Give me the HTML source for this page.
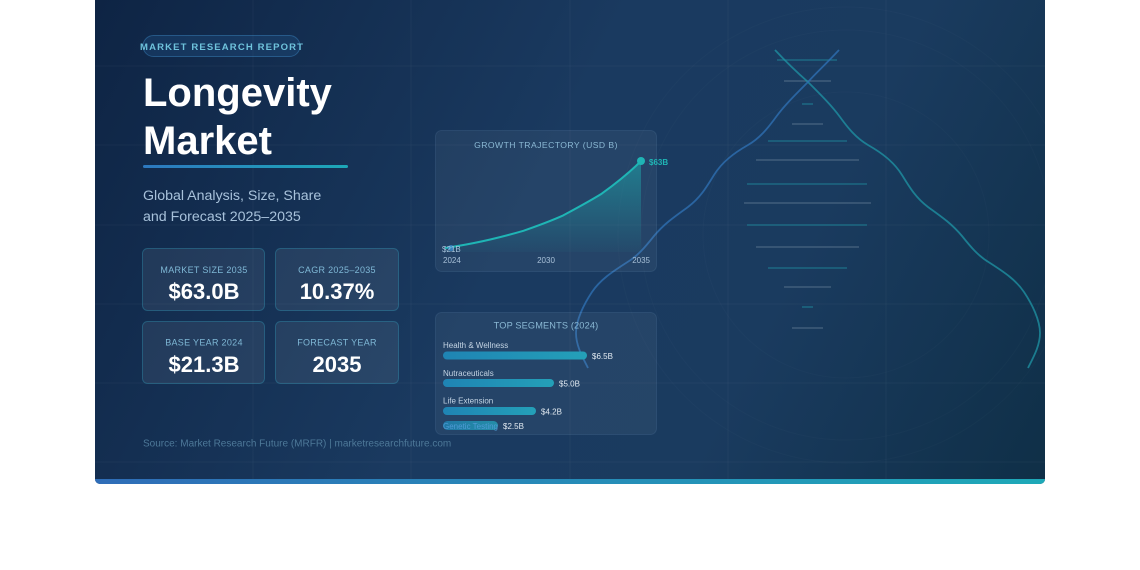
<!DOCTYPE html>
<html><head><meta charset="utf-8"><style>
html,body{margin:0;padding:0;background:#fff;width:1140px;height:570px;overflow:hidden}
svg{display:block}
text{font-family:"Liberation Sans",sans-serif}
</style></head><body>
<svg width="1140" height="570" viewBox="0 0 1140 570" xmlns="http://www.w3.org/2000/svg">
<defs>
<linearGradient id="bg" gradientUnits="userSpaceOnUse" x1="95" y1="0" x2="1045" y2="484">
<stop offset="0" stop-color="#0e2444"/><stop offset="0.45" stop-color="#1a3a60"/><stop offset="0.7" stop-color="#1a3b5f"/><stop offset="1" stop-color="#0f2f47"/>
</linearGradient>
<linearGradient id="bar" x1="0" y1="0" x2="1" y2="0"><stop offset="0" stop-color="#2f6db8"/><stop offset="1" stop-color="#1ea9b8"/></linearGradient>
<linearGradient id="ul" x1="0" y1="0" x2="1" y2="0"><stop offset="0" stop-color="#2d78bf"/><stop offset="1" stop-color="#1da8b8"/></linearGradient>
<linearGradient id="sb" x1="0" y1="0" x2="1" y2="0"><stop offset="0" stop-color="#1f84b4"/><stop offset="1" stop-color="#24a0b8"/></linearGradient>
<linearGradient id="area" x1="0" y1="0" x2="0" y2="1"><stop offset="0" stop-color="#1fb5b5" stop-opacity="0.5"/><stop offset="1" stop-color="#1fb5b5" stop-opacity="0.04"/></linearGradient>
<clipPath id="card"><rect x="95" y="-10" width="950" height="494" rx="5"/></clipPath>
</defs>
<g clip-path="url(#card)">
<rect x="95" y="-10" width="950" height="494" fill="url(#bg)"/>
<g stroke="#ffffff" stroke-opacity="0.035" stroke-width="1">
<line x1="253" y1="0" x2="253" y2="484"/><line x1="411" y1="0" x2="411" y2="484"/><line x1="570" y1="0" x2="570" y2="484"/><line x1="728" y1="0" x2="728" y2="484"/><line x1="886" y1="0" x2="886" y2="484"/>
<line x1="95" y1="66" x2="1045" y2="66"/><line x1="95" y1="145" x2="1045" y2="145"/><line x1="95" y1="225" x2="1045" y2="225"/><line x1="95" y1="304" x2="1045" y2="304"/><line x1="95" y1="383" x2="1045" y2="383"/><line x1="95" y1="462" x2="1045" y2="462"/>
</g>
<g fill="none" stroke="#ffffff" stroke-opacity="0.018">
<circle cx="846" cy="235" r="143"/><circle cx="846" cy="235" r="205"/><circle cx="846" cy="235" r="228"/>
</g>
<!-- DNA rungs -->
<g stroke-width="1.3">
<line x1="777" y1="60" x2="837" y2="60" stroke="#1f8a9c" stroke-opacity="0.7"/>
<line x1="784" y1="81" x2="831" y2="81" stroke="#5e7892" stroke-opacity="0.7"/>
<line x1="802" y1="104" x2="813" y2="104" stroke="#1f8a9c" stroke-opacity="0.7"/>
<line x1="792" y1="124" x2="823" y2="124" stroke="#5e7892" stroke-opacity="0.7"/>
<line x1="768" y1="141" x2="847" y2="141" stroke="#1f8a9c" stroke-opacity="0.7"/>
<line x1="756" y1="160" x2="859" y2="160" stroke="#5e7892" stroke-opacity="0.7"/>
<line x1="747" y1="184" x2="867" y2="184" stroke="#1f8a9c" stroke-opacity="0.7"/>
<line x1="744" y1="203" x2="871" y2="203" stroke="#5e7892" stroke-opacity="0.7"/>
<line x1="747" y1="225" x2="867" y2="225" stroke="#1f8a9c" stroke-opacity="0.7"/>
<line x1="756" y1="247" x2="859" y2="247" stroke="#5e7892" stroke-opacity="0.7"/>
<line x1="768" y1="268" x2="847" y2="268" stroke="#1f8a9c" stroke-opacity="0.7"/>
<line x1="784" y1="287" x2="831" y2="287" stroke="#5e7892" stroke-opacity="0.7"/>
<line x1="802" y1="307" x2="813" y2="307" stroke="#1f8a9c" stroke-opacity="0.7"/>
<line x1="792" y1="328" x2="823" y2="328" stroke="#5e7892" stroke-opacity="0.7"/>
</g>
<path d="M775,50 C790,66 800,75 808,82 C822,96 832,106 840,117 C848,128 856,138 868,145 C882,153 894,162 902,175 C910,188 916,198 928,207 C942,217 952,224 962,236 C970,246 978,256 990,263 C1004,272 1016,280 1024,292 C1032,304 1040,320 1040,333 C1040,346 1033,358 1028,368" fill="none" stroke="#1f95a5" stroke-opacity="0.75" stroke-width="1.8"/>
<path d="M839,50 C824,66 814,75 808,82 C794,96 784,106 776,117 C768,128 760,138 748,145 C734,153 722,162 714,175 C706,188 700,198 688,207 C674,217 664,224 654,236 C646,246 638,256 626,263 C612,272 600,280 592,292 C584,304 576,320 576,333 C576,346 583,358 588,368" fill="none" stroke="#2e6fb2" stroke-opacity="0.8" stroke-width="1.8"/>
<rect x="95" y="479" width="950" height="6" fill="url(#bar)"/>
</g>

<!-- badge -->
<rect x="143" y="35.5" width="157" height="21" rx="10.5" fill="#2a6aa8" fill-opacity="0.22" stroke="#3f8cc8" stroke-opacity="0.45"/>
<text x="140" y="50" font-size="9.5" font-weight="bold" letter-spacing="1.15" fill="#6fc3dc">MARKET RESEARCH REPORT</text>

<text x="143" y="106" font-size="40" font-weight="bold" fill="#ffffff">Longevity</text>
<text x="143" y="154" font-size="40" font-weight="bold" fill="#ffffff">Market</text>
<rect x="143" y="165" width="205" height="3" rx="1.5" fill="url(#ul)"/>
<text x="143" y="200" font-size="14.2" fill="#a8c2db">Global Analysis, Size, Share</text>
<text x="143" y="221" font-size="14.2" fill="#a8c2db">and Forecast 2025–2035</text>

<!-- stat cards -->
<g fill="#ffffff" fill-opacity="0.07" stroke="#3aa6c4" stroke-opacity="0.35">
<rect x="142.5" y="248.5" width="122" height="62" rx="5"/>
<rect x="275.5" y="248.5" width="123" height="62" rx="5"/>
<rect x="142.5" y="321.5" width="122" height="62" rx="5"/>
<rect x="275.5" y="321.5" width="123" height="62" rx="5"/>
</g>
<g text-anchor="middle">
<text x="204" y="273" font-size="9" letter-spacing="0.3" fill="#7fb8d6">MARKET SIZE 2035</text>
<text x="204" y="299" font-size="22" font-weight="bold" fill="#ffffff">$63.0B</text>
<text x="337" y="273" font-size="9" letter-spacing="0.3" fill="#7fb8d6">CAGR 2025–2035</text>
<text x="337" y="299" font-size="22" font-weight="bold" fill="#ffffff">10.37%</text>
<text x="204" y="345.5" font-size="9" letter-spacing="0.3" fill="#7fb8d6">BASE YEAR 2024</text>
<text x="204" y="372" font-size="22" font-weight="bold" fill="#ffffff">$21.3B</text>
<text x="337" y="345.5" font-size="9" letter-spacing="0.3" fill="#7fb8d6">FORECAST YEAR</text>
<text x="337" y="372" font-size="22" font-weight="bold" fill="#ffffff">2035</text>
</g>

<!-- growth panel -->
<rect x="435.5" y="130.5" width="221" height="141" rx="6" fill="#ffffff" fill-opacity="0.05" stroke="#8ab8e0" stroke-opacity="0.12"/>
<text x="546" y="148" text-anchor="middle" font-size="8.6" letter-spacing="0.45" fill="#8ab8d4">GROWTH TRAJECTORY (USD B)</text>
<path d="M445,248 L464.6,244.9 L484.2,241 L503.8,236.4 L523.4,230.8 L543,224 L562.6,215.7 L582.2,205.7 L601.8,193.6 L621.4,178.9 L641,161 L641,252 L445,252 Z" fill="url(#area)"/>
<path d="M445,248 C455,246.5 464,245 474,243 C494,239 504,236.4 523.4,230.8 C543,224 553,220 562.6,215.7 C575,209 590,201 601.8,193.6 C615,184 628,174 641,161" fill="none" stroke="#1fb5b5" stroke-width="2"/>
<circle cx="451" cy="248" r="3" fill="#3b8fd0" fill-opacity="0.8"/>
<circle cx="641" cy="161" r="4" fill="#1fb5b5"/>
<text x="649" y="165" font-size="8" font-weight="bold" fill="#1fb5b5">$63B</text>
<text x="442" y="252" font-size="8" fill="#a8c4dc">$21B</text>
<text x="443" y="263" font-size="8" fill="#a8c0d8">2024</text>
<text x="546" y="263" text-anchor="middle" font-size="8" fill="#a8c0d8">2030</text>
<text x="650" y="263" text-anchor="end" font-size="8" fill="#a8c0d8">2035</text>

<!-- segments panel -->
<rect x="435.5" y="312.5" width="221" height="122" rx="6" fill="#ffffff" fill-opacity="0.05" stroke="#8ab8e0" stroke-opacity="0.12"/>
<text x="546" y="328.5" text-anchor="middle" font-size="9.2" letter-spacing="0.15" fill="#8ab8d4">TOP SEGMENTS (2024)</text>
<text x="443" y="348" font-size="8" fill="#c4d4e4">Health &amp; Wellness</text>
<rect x="443" y="351.5" width="144" height="8" rx="4" fill="url(#sb)"/>
<text x="592" y="359" font-size="8" fill="#e2eaf2">$6.5B</text>
<text x="443" y="376" font-size="8" fill="#c4d4e4">Nutraceuticals</text>
<rect x="443" y="379" width="111" height="8" rx="4" fill="url(#sb)"/>
<text x="559" y="386.5" font-size="8" fill="#e2eaf2">$5.0B</text>
<text x="443" y="403.5" font-size="8" fill="#c4d4e4">Life Extension</text>
<rect x="443" y="407" width="93" height="8" rx="4" fill="url(#sb)"/>
<text x="541" y="414.5" font-size="8" fill="#e2eaf2">$4.2B</text>
<rect x="443" y="421" width="55" height="9" rx="4.5" fill="url(#sb)" fill-opacity="0.8"/>
<text x="443" y="429" font-size="8" fill="#4f9ad6">Genetic Testing</text>
<text x="503" y="429" font-size="8" fill="#e2eaf2">$2.5B</text>

<text x="143" y="446.5" font-size="10" fill="#4d7898">Source: Market Research Future (MRFR) | marketresearchfuture.com</text>
</svg>
</body></html>
